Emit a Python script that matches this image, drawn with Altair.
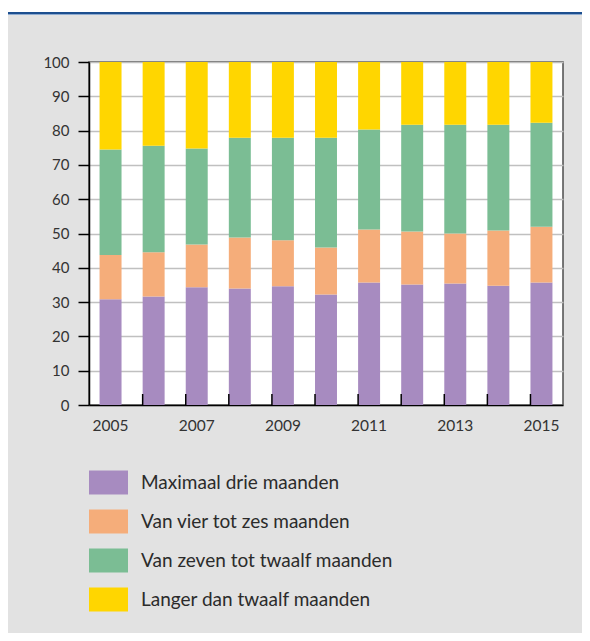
import altair as alt
import pandas as pd

years = [2005, 2006, 2007, 2008, 2009, 2010, 2011, 2012, 2013, 2014, 2015]
categories = [
    "Maximaal drie maanden",
    "Van vier tot zes maanden",
    "Van zeven tot twaalf maanden",
    "Langer dan twaalf maanden",
]
colors = ["#a78bc0", "#f5ad7a", "#7bbd94", "#ffd600"]

max_drie = [30.8, 31.6, 34.3, 34.0, 34.6, 32.2, 35.7, 35.1, 35.4, 34.8, 35.7]
vier_zes = [12.9, 12.9, 12.5, 14.8, 13.4, 13.7, 15.5, 15.5, 14.6, 16.1, 16.3]
zeven_twaalf = [30.8, 31.1, 28.0, 29.1, 29.9, 32.0, 29.1, 31.1, 31.7, 30.8, 30.3]
langer = [25.5, 24.4, 25.2, 22.1, 22.1, 22.1, 19.7, 18.3, 18.3, 18.3, 17.7]

rows = []
for ci, (cat, vals) in enumerate(zip(categories, [max_drie, vier_zes, zeven_twaalf, langer])):
    for yr, v in zip(years, vals):
        rows.append({"jaar": str(yr), "categorie": cat, "waarde": v, "volgorde": ci})
df = pd.DataFrame(rows)

W, H = 474, 343
L, T = 81, 54
R = 574 - L - W
B = 625 - T - H

year_labels = [str(y) for y in years]
xscale = alt.Scale(domain=year_labels, paddingInner=0.49, paddingOuter=0.245)

bars = alt.Chart(df).mark_bar().encode(
    x=alt.X(
        "jaar:N",
        scale=xscale,
        axis=alt.Axis(
            title=None,
            values=year_labels[::2],
            labelAngle=0,
            ticks=False,
            tickSize=0,
            labelPadding=13,
            labelFontSize=15.5,
            domainColor="black",
            domainWidth=1.5,
            grid=False,
        ),
    ),
    y=alt.Y(
        "waarde:Q",
        stack="zero",
        scale=alt.Scale(domain=[0, 100], nice=False),
        axis=alt.Axis(
            title=None,
            values=list(range(0, 101, 10)),
            tickSize=11,
            tickWidth=1.5,
            tickColor="black",
            labelPadding=9,
            labelFontSize=15,
            domainColor="black",
            domainWidth=1.5,
            grid=True,
            gridColor="#c0c0c0",
            gridWidth=1.5,
        ),
    ),
    color=alt.Color(
        "categorie:N",
        scale=alt.Scale(domain=categories, range=colors),
        legend=alt.Legend(
            title=None,
            orient="none",
            legendX=0,
            legendY=401,
            symbolType="M-1,-0.62L1,-0.62L1,0.62L-1,0.62Z",
            symbolSize=1521,
            symbolStrokeWidth=0,
            symbolOpacity=1,
            labelFont="Lato",
            labelFontSize=19,
            labelColor="#2b2b2b",
            labelOffset=13,
            labelLimit=400,
            rowPadding=7,
            padding=0,
        ),
    ),
    order=alt.Order("volgorde:Q", sort="ascending"),
)

tick_df = pd.DataFrame({"jaar": year_labels[1:]})
ticks = alt.Chart(tick_df).mark_rule(color="black", strokeWidth=1.5).encode(
    x=alt.X("jaar:N", bandPosition=0, scale=xscale),
    y=alt.value(H),
    y2=alt.value(H - 11),
)

deco = pd.DataFrame({"k": [0]})
white = alt.Chart(deco).mark_rect(color="white").encode(
    x=alt.value(-L), x2=alt.value(W + R), y=alt.value(-T), y2=alt.value(-T + 4)
)
blue = alt.Chart(deco).mark_rule(color="#1d4f8f", strokeWidth=2).encode(
    x=alt.value(-L), x2=alt.value(W + R), y=alt.value(-T + 5)
)
lightblue = alt.Chart(deco).mark_rule(color="#8eabd0", strokeWidth=1).encode(
    x=alt.value(-L), x2=alt.value(W + R), y=alt.value(-T + 6.5)
)

chart = (
    alt.layer(white, blue, lightblue, bars, ticks)
    .properties(
        width=W,
        height=H,
        padding={"left": L, "top": T, "right": R, "bottom": B},
        autosize=alt.AutoSizeParams(type="none"),
        background="#e2e2e2",
    )
    .configure_view(fill="white", stroke="#4d4d4d", strokeWidth=1.5)
    .configure_axis(labelFont="Lato", labelColor="#333333")
)

chart.save("out.html", embed_options={"renderer": "svg", "actions": False})
